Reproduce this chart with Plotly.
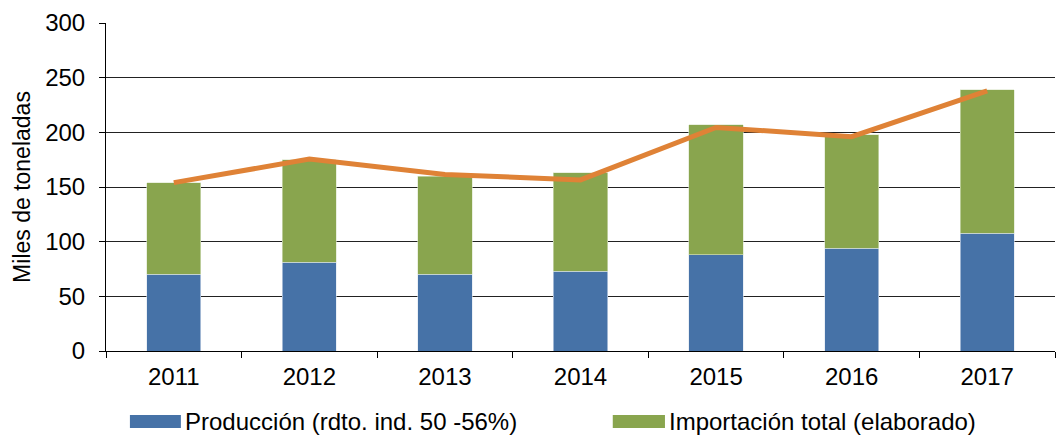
import plotly.graph_objects as go

years = ["2011", "2012", "2013", "2014", "2015", "2016", "2017"]
produccion = [70, 81, 70, 73, 88, 94, 107.5]
importacion = [84, 94, 90, 90, 119, 104, 131.5]
linea = [154, 175.5, 161.5, 156.5, 204.5, 196, 238]

name_prod = "Producción (rdto. ind. 50 -56%)"
name_imp = "Importación total (elaborado)"

c_blue = "#4672A7"
c_green = "#89A54E"
c_orange = "#DF8236"

FONT = "Liberation Sans, Arial, sans-serif"
FS = 24

fig = go.Figure()
fig.add_trace(go.Bar(x=years, y=produccion, name=name_prod, marker=dict(color=c_blue, line=dict(color="#DDE6F0", width=0.6)), showlegend=False))
fig.add_trace(go.Bar(x=years, y=importacion, name=name_imp, marker=dict(color=c_green, line=dict(color="#DCE6CC", width=0.6)), showlegend=False))
fig.add_trace(go.Scatter(x=years, y=linea, mode="lines", line=dict(color=c_orange, width=5), showlegend=False))

# custom legend (large swatches as in the reference)
legend_items = [(name_prod, c_blue, 0.0252, 0.0789), (name_imp, c_green, 0.534, 0.589)]
for label, col, x0, x1 in legend_items:
    fig.add_shape(type="rect", xref="paper", yref="paper", x0=x0, x1=x1, y0=-0.235, y1=-0.195,
                  fillcolor=col, line=dict(width=0))
    fig.add_annotation(xref="paper", yref="paper", x=x1 + 0.002, y=-0.215, text=label, showarrow=False,
                       xanchor="left", yanchor="middle", font=dict(family=FONT, size=FS, color="#000"))

fig.update_layout(
    width=1057, height=435,
    margin=dict(l=106, r=2, t=23, b=84),
    barmode="stack", bargap=0.6,
    plot_bgcolor="white", paper_bgcolor="white",
    font=dict(family=FONT, size=FS, color="#000"),
    showlegend=False,
)
fig.update_xaxes(type="category", tickson="boundaries", ticks="outside", ticklen=6, tickcolor="#000",
                 showline=True, linecolor="#000", linewidth=1, showgrid=False, ticklabelstandoff=4,
                 tickfont=dict(family=FONT, size=FS, color="#000"))
fig.update_yaxes(range=[0, 300], dtick=50, ticks="outside", ticklen=6, tickcolor="#000",
                 showline=True, linecolor="#000", linewidth=1, ticklabelstandoff=9,
                 showgrid=True, gridcolor="#222", gridwidth=1,
                 tickfont=dict(family=FONT, size=FS, color="#000"),
                 title=dict(text="Miles de toneladas", font=dict(family=FONT, size=FS - 1, color="#000"), standoff=8))

fig.write_html("out.html", config={"displayModeBar": False})
with open("out.html", encoding="utf-8") as f:
    html = f.read()
html = html.replace("<body>", '<body style="margin:0;padding:0;overflow:hidden;">', 1)
with open("out.html", "w", encoding="utf-8") as f:
    f.write(html)
